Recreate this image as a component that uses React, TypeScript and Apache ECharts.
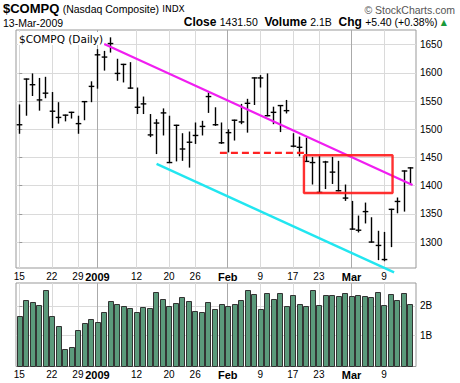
import React, { useEffect, useRef } from "react";
import * as echarts from "echarts";

// Trading days 15-Dec-2008 .. 13-Mar-2009 (x = index into this list)
const dates = [
  "12-15", "12-16", "12-17", "12-18", "12-19", "12-22", "12-23", "12-24", "12-26", "12-29",
  "12-30", "12-31", "01-02", "01-05", "01-06", "01-07", "01-08", "01-09", "01-12", "01-13",
  "01-14", "01-15", "01-16", "01-20", "01-21", "01-22", "01-23", "01-26", "01-27", "01-28",
  "01-29", "01-30", "02-02", "02-03", "02-04", "02-05", "02-06", "02-09", "02-10", "02-11",
  "02-12", "02-13", "02-17", "02-18", "02-19", "02-20", "02-23", "02-24", "02-25", "02-26",
  "02-27", "03-02", "03-03", "03-04", "03-05", "03-06", "03-09", "03-10", "03-11", "03-12",
  "03-13",
];
const highs = [
  1544, 1590, 1599, 1591, 1593, 1566, 1548, 1526, 1531, 1524,
  1550, 1585, 1642, 1639, 1663, 1625, 1616, 1619, 1574, 1558,
  1527, 1518, 1537, 1524, 1508, 1493, 1496, 1512, 1515, 1565,
  1539, 1512, 1500, 1517, 1545, 1554, 1592, 1596, 1599, 1540,
  1543, 1552, 1493, 1487, 1485, 1451, 1453, 1444, 1451, 1444,
  1402, 1373, 1347, 1370, 1344, 1320, 1318, 1359, 1379, 1427,
  1433,
];
const lows = [
  1492, 1524, 1559, 1533, 1555, 1502, 1510, 1514, 1519, 1492,
  1516, 1548, 1572, 1604, 1636, 1586, 1583, 1572, 1527, 1527,
  1486, 1456, 1489, 1440, 1443, 1444, 1432, 1474, 1489, 1529,
  1506, 1474, 1459, 1480, 1509, 1494, 1543, 1574, 1523, 1509,
  1495, 1528, 1468, 1452, 1443, 1402, 1388, 1394, 1403, 1390,
  1373, 1322, 1317, 1333, 1299, 1268, 1266, 1291, 1351, 1354,
  1403,
];
const closes = [
  1508, 1589, 1579, 1552, 1564, 1532, 1521, 1525, 1530, 1510,
  1549, 1576, 1632, 1628, 1652, 1599, 1615, 1573, 1539, 1545,
  1490, 1511, 1529, 1441, 1507, 1465, 1477, 1489, 1505, 1558,
  1508, 1476, 1494, 1516, 1513, 1546, 1591, 1591, 1524, 1530,
  1542, 1533, 1470, 1468, 1443, 1441, 1388, 1442, 1424, 1391,
  1378, 1323, 1321, 1354, 1300, 1294, 1269, 1358, 1372, 1426,
  1431.5,
];
// volume in billions
const volumes = [
  1.66, 2.21, 2.13, 2.04, 2.55, 1.66, 1.32, 0.54, 0.6, 1.18,
  1.43, 1.56, 1.47, 1.8, 2.17, 2.05, 2.0, 1.93, 1.78, 1.97,
  1.93, 2.48, 2.24, 2.0, 2.1, 2.31, 2.17, 1.83, 1.8, 2.14,
  1.9, 2.08, 2.0, 2.07, 2.21, 2.55, 2.41, 1.9, 2.44, 2.24,
  2.44, 2.0, 2.38, 2.07, 2.0, 2.55, 2.04, 2.38, 2.38, 2.34,
  2.44, 2.34, 2.38, 2.34, 2.31, 2.48, 2.04, 2.41, 2.21, 2.44,
  2.07,
];

const tickIdx = [0, 5, 9, 12, 18, 23, 27, 32, 37, 42, 46, 51, 56];
const tickLabels = ["15", "22", "29", "2009", "12", "20", "26", "Feb", "9", "17", "23", "Mar", "9"];
const boldLabels = ["2009", "Feb", "Mar"];
const monthLineIdx = [12, 32, 51];
const priceTicks = [1300, 1350, 1400, 1450, 1500, 1550, 1600, 1650];
const volTicks = [1, 2];
const volTickLabels = ["1B", "2B"];

const resistanceLine = [[13.04, 1651], [60.37, 1401]];
const supportLine = [[21.08, 1438.5], [57.54, 1246.3]];
const breakdownLevel = [[30.8, 1458], [43.7, 1458]];
const boxIdx = [43.7, 57.3];
const boxPrice = [1387, 1454];

const FONT = "'Liberation Sans', Arial, sans-serif";

export default function App() {
  const ref = useRef<HTMLDivElement>(null);

  useEffect(() => {
    if (!ref.current) return;
    const chart = echarts.init(ref.current, null, { renderer: "svg" });

    const priceData = dates.map((_, i) => [i, highs[i], lows[i], closes[i]]);
    const volData = dates.map((_, i) => [i, volumes[i]]);
    const boxData = [
      [boxIdx[0], boxPrice[1]],
      [boxIdx[1], boxPrice[1]],
      [boxIdx[1], boxPrice[0]],
      [boxIdx[0], boxPrice[0]],
      [boxIdx[0], boxPrice[1]],
    ];

    const xLabelFmt = (v: number) => {
      const k = tickIdx.indexOf(Math.round(v));
      if (k < 0) return "";
      const t = tickLabels[k];
      return boldLabels.includes(t) ? `{b|${t}}` : t;
    };

    const xAxisBase = {
      type: "value",
      min: -0.5,
      max: 60.9,
      axisLine: { show: false },
      axisTick: { show: false, customValues: tickIdx },
      splitLine: { show: true, lineStyle: { color: "#dadada", width: 1 } },
      axisLabel: {
        customValues: tickIdx,
        formatter: xLabelFmt,
        margin: 3,
        fontSize: 10,
        fontFamily: FONT,
        color: "#000",
        rich: { b: { fontWeight: "bold", fontSize: 11, fontFamily: FONT, color: "#000" } },
      },
    };

    const monthMark = {
      symbol: "none",
      silent: true,
      label: { show: false },
      lineStyle: { color: "#aaaaaa", type: "solid", width: 1 },
      data: monthLineIdx.map((v) => ({ xAxis: v })),
      z: 0,
    };

    const option: any = {
      animation: false,
      grid: [
        { left: 16, top: 30, width: 400, height: 238, show: true, borderColor: "#999", borderWidth: 1 },
        { left: 16, top: 283, width: 400, height: 83.5, show: true, borderColor: "#999", borderWidth: 1 },
      ],
      xAxis: [
        { ...xAxisBase, gridIndex: 0 },
        { ...xAxisBase, gridIndex: 1 },
      ],
      yAxis: [
        {
          gridIndex: 0,
          type: "value",
          position: "right",
          min: 1254,
          max: 1676,
          axisLine: { show: false },
          axisTick: { show: true, length: 3, customValues: priceTicks, lineStyle: { color: "#999" } },
          splitLine: { show: true, lineStyle: { color: "#dadada" } },
          axisLabel: {
            customValues: priceTicks,
            margin: 4,
            fontSize: 10,
            fontFamily: FONT,
            color: "#000",
            formatter: (v: number) => String(Math.round(v)),
          },
        },
        {
          gridIndex: 1,
          type: "value",
          position: "right",
          min: -0.06,
          max: 2.78,
          axisLine: { show: false },
          axisTick: { show: true, length: 3, customValues: volTicks, lineStyle: { color: "#999" } },
          splitLine: { show: true, lineStyle: { color: "#dadada" } },
          axisLabel: {
            customValues: volTicks,
            margin: 4,
            fontSize: 10,
            fontFamily: FONT,
            color: "#000",
            formatter: (v: number) => volTickLabels[volTicks.indexOf(Math.round(v))] || "",
          },
        },
      ],
      series: [
        {
          type: "custom",
          name: "price",
          xAxisIndex: 0,
          yAxisIndex: 0,
          data: priceData,
          encode: { x: 0, y: [1, 2, 3] },
          markLine: monthMark,
          renderItem: (params: any, api: any) => {
            const x = api.value(0);
            const h = api.coord([x, api.value(1)]);
            const l = api.coord([x, api.value(2)]);
            const c = api.coord([x, api.value(3)]);
            const cx = Math.round(h[0]) + 0.5;
            return {
              type: "group",
              children: [
                { type: "line", shape: { x1: cx, y1: h[1], x2: cx, y2: l[1] }, style: { stroke: "#000", lineWidth: 1.4 } },
                { type: "line", shape: { x1: cx - 2.8, y1: c[1], x2: cx + 2.8, y2: c[1] }, style: { stroke: "#000", lineWidth: 1.4 } },
              ],
            };
          },
          z: 3,
        },
        {
          type: "line",
          name: "resistance",
          xAxisIndex: 0,
          yAxisIndex: 0,
          data: resistanceLine,
          symbol: "none",
          lineStyle: { color: "#f01ef0", width: 2.2 },
          z: 4,
        },
        {
          type: "line",
          name: "support",
          xAxisIndex: 0,
          yAxisIndex: 0,
          data: supportLine,
          symbol: "none",
          clip: false,
          lineStyle: { color: "#22e6f0", width: 2.4 },
          z: 4,
        },
        {
          type: "line",
          name: "breakdown",
          xAxisIndex: 0,
          yAxisIndex: 0,
          data: breakdownLevel,
          symbol: "none",
          lineStyle: { color: "#ff2222", width: 2.2, type: [7, 4] },
          z: 4,
        },
        {
          type: "line",
          name: "box",
          xAxisIndex: 0,
          yAxisIndex: 0,
          data: boxData,
          symbol: "none",
          lineStyle: { color: "#ff1a1a", width: 2.4, opacity: 0.9 },
          z: 4,
        },
        {
          type: "custom",
          name: "volume",
          xAxisIndex: 1,
          yAxisIndex: 1,
          data: volData,
          encode: { x: 0, y: 1 },
          markLine: monthMark,
          renderItem: (params: any, api: any) => {
            const x = api.value(0);
            const top = api.coord([x, api.value(1)]);
            const bottom = params.coordSys.y + params.coordSys.height;
            const left = Math.round(top[0] - 2.7) + 0.5;
            return {
              type: "rect",
              shape: { x: left, y: Math.round(top[1]) + 0.5, width: 5, height: bottom - Math.round(top[1]) - 0.5 },
              style: { fill: "#5b9a7b", stroke: "#333", lineWidth: 1 },
            };
          },
          z: 3,
        },
      ],
      graphic: [
        {
          type: "text",
          left: 3,
          top: 2,
          style: {
            text: "{t|$COMPQ} {n|(Nasdaq Composite)} {s|INDX}",
            rich: {
              t: { fontFamily: FONT, fontWeight: "bold", fontSize: 13, fill: "#000" },
              n: { fontFamily: FONT, fontSize: 10.5, fill: "#000" },
              s: { fontFamily: "'DejaVu Sans', sans-serif", fontSize: 9, fill: "#000" },
            },
          },
        },
        {
          type: "text",
          right: 5,
          top: 4,
          style: { text: "© StockCharts.com", fontFamily: FONT, fontSize: 10.5, fill: "#555" },
        },
        {
          type: "text",
          left: 3,
          top: 17,
          style: { text: "13-Mar-2009", fontFamily: FONT, fontSize: 10.5, fill: "#000" },
        },
        {
          type: "text",
          right: 13,
          top: 16,
          style: {
            text: "{b|Close} {n|1431.50}  {b|Volume} {n|2.1B}  {b|Chg} {n|+5.40 (+0.38%)} {g|▲}",
            rich: {
              b: { fontFamily: FONT, fontWeight: "bold", fontSize: 12, fill: "#000" },
              n: { fontFamily: FONT, fontSize: 10.5, fill: "#000" },
              g: { fontFamily: "'DejaVu Sans', sans-serif", fontSize: 8, fill: "#1a9a3a" },
            },
          },
        },
        {
          type: "text",
          left: 18,
          top: 32,
          z: 10,
          style: {
            text: "$COMPQ (Daily)",
            fontFamily: "'DejaVu Sans', sans-serif",
            fontSize: 10.5,
            fill: "#000",
            backgroundColor: "#fff",
            padding: [1, 1, 1, 1],
          },
        },
      ],
    };

    chart.setOption(option);
    return () => chart.dispose();
  }, []);

  return (
    <div
      ref={ref}
      style={{ position: "fixed", left: 0, top: 0, width: 460, height: 383, background: "#fff" }}
    />
  );
}
